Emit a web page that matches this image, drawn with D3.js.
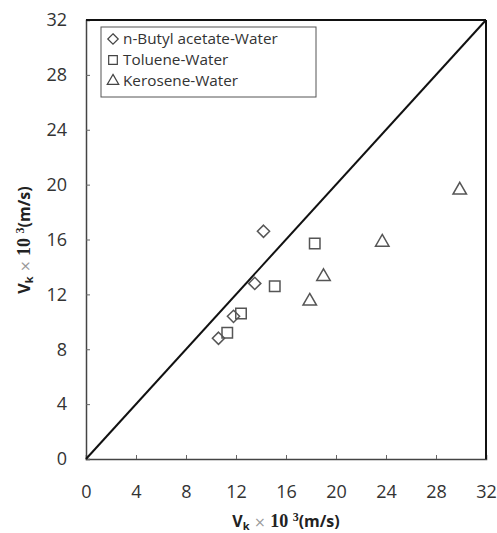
<!DOCTYPE html>
<html><head><meta charset="utf-8">
<script src="https://cdn.jsdelivr.net/npm/d3@7"></script>
<style>body{margin:0;background:#fff}</style>
</head><body>
<script>
const ticks = [0,4,8,12,16,20,24,28,32];
const butylX = [14.2, 13.5, 11.8, 10.6];
const butylY = [16.6, 12.8, 10.4, 8.8];
const tolueneX = [18.3, 15.1, 12.4, 11.3];
const tolueneY = [15.7, 12.6, 10.6, 9.2];
const keroseneX = [29.9, 23.7, 19.0, 17.9];
const keroseneY = [19.6, 15.8, 13.3, 11.5];
const seriesNames = ["n-Butyl acetate-Water", "Toluene-Water", "Kerosene-Water"];

const W = 497, H = 533;
const m = {left: 86, right: 11, top: 20, bottom: 74};
const svg = d3.select("body").append("svg").attr("width", W).attr("height", H);
const x = d3.scaleLinear().domain([0,32]).range([m.left, W - m.right]);
const y = d3.scaleLinear().domain([0,32]).range([H - m.bottom, m.top]);
const font = "'Open Sans', 'Noto Sans', sans-serif";

// axes
const xa = svg.append("g").attr("transform", `translate(0,${y(0)})`)
  .call(d3.axisBottom(x).tickValues(ticks).tickSize(-4).tickPadding(26));
const ya = svg.append("g").attr("transform", `translate(${x(0)},0)`)
  .call(d3.axisLeft(y).tickValues(ticks).tickSize(-4).tickPadding(19));
[xa, ya].forEach(a => {
  a.select(".domain").attr("stroke", "#444").attr("stroke-width", 1.5);
  a.selectAll(".tick line").attr("stroke", "#666");
  a.selectAll("text").attr("font-family", font).attr("font-size", 18).attr("fill", "#333");
});
// frame top/right
svg.append("line").attr("x1", x(0)).attr("x2", x(32)).attr("y1", y(32)).attr("y2", y(32)).attr("stroke", "#111").attr("stroke-width", 2);
svg.append("line").attr("x1", x(32)).attr("x2", x(32)).attr("y1", y(32)).attr("y2", y(0)).attr("stroke", "#111").attr("stroke-width", 2);

// diagonal
svg.append("line").attr("x1", x(0)).attr("y1", y(0)).attr("x2", x(32)).attr("y2", y(32))
  .attr("stroke", "#111").attr("stroke-width", 2);

const sym = [d3.symbolDiamond2, d3.symbolSquare2, d3.symbolTriangle2];
const sizes = [95, 140, 130];
const data = [[butylX, butylY], [tolueneX, tolueneY], [keroseneX, keroseneY]];
data.forEach((s, i) => {
  svg.append("g").selectAll("path").data(s[0].map((v, j) => [v, s[1][j]])).join("path")
    .attr("transform", d => `translate(${x(d[0])},${y(d[1])})`)
    .attr("d", d3.symbol(sym[i], sizes[i]))
    .attr("fill", "none").attr("stroke", "#555").attr("stroke-width", 1.5);
});

// legend
const lg = svg.append("g");
lg.append("rect").attr("x", 101).attr("y", 27).attr("width", 215).attr("height", 70)
  .attr("fill", "#fff").attr("stroke", "#555").attr("stroke-width", 1);
seriesNames.forEach((n, i) => {
  const cy = 39 + i * 21;
  lg.append("path").attr("transform", `translate(113,${cy})`)
    .attr("d", d3.symbol(sym[i], i === 0 ? 70 : 95))
    .attr("fill", "none").attr("stroke", "#444").attr("stroke-width", 1.2);
  lg.append("text").attr("x", 123).attr("y", cy + 5).text(n)
    .attr("font-family", font).attr("font-size", 15.3).attr("fill", "#333");
});

// axis titles
function title(g) {
  const t = g.append("text").attr("font-size", 16).attr("fill", "#222").attr("text-anchor", "middle");
  t.append("tspan").attr("font-family", font).attr("font-weight", "bold").text("V");
  t.append("tspan").attr("font-family", font).attr("font-weight", "bold").attr("font-size", 11).attr("dy", 3).text("k");
  t.append("tspan").attr("font-family", "'DejaVu Sans', sans-serif").attr("fill", "#999").attr("font-size", 14).attr("dy", -3).text(" × ");
  t.append("tspan").attr("font-family", "'Liberation Serif', serif").attr("font-weight", "bold").attr("font-size", 18).text("10 ");
  t.append("tspan").attr("font-family", "'Liberation Serif', serif").attr("font-weight", "bold").attr("font-size", 12).attr("dy", -6).text("3");
  t.append("tspan").attr("font-family", font).attr("font-weight", "bold").attr("dy", 6).text("(m/s)");
  return t;
}
title(svg.append("g").attr("transform", "translate(286,527)"));
title(svg.append("g").attr("transform", "translate(30,240) rotate(-90)"));
</script>
</body></html>
